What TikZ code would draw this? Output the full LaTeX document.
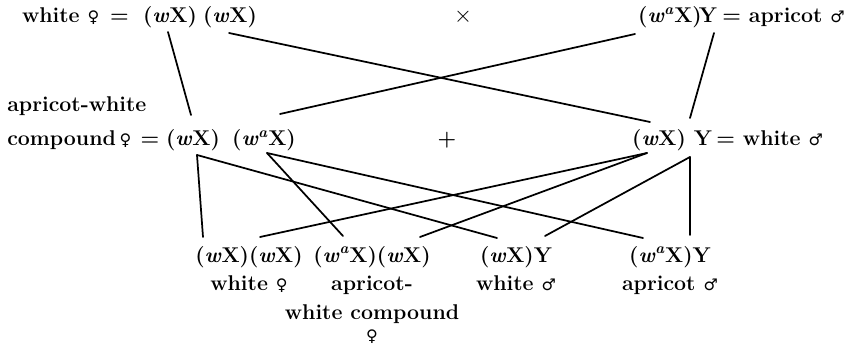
\documentclass[tikz,border=0pt]{standalone}
\usepackage{fontspec}
\usepackage{tikz}
\usetikzlibrary{positioning,calc}
\newfontfamily\sexfont{DejaVu Sans}
\newcommand{\fem}{{\sexfont\mdseries\fontsize{12}{14}\selectfont ♀}}
\newcommand{\mal}{{\sexfont\mdseries\fontsize{12}{14}\selectfont ♂}}
\newcommand{\wX}{(\textit{w}X)}
\newcommand{\waX}{(\textit{w}\textsuperscript{\textit{a}}X)}
\tikzset{
  txt/.style={inner sep=0pt,anchor=base,font=\fontsize{16}{21.5}\selectfont\bfseries},
  gamete/.style={txt},
  zygote/.style={txt,anchor=north,align=center},
  cross/.style={line width=1.3pt,line cap=round}
}

\begin{document}
\begin{tikzpicture}[x=0.75pt,y=-0.75pt]
  \useasboundingbox (0,0) rectangle (853,348);

  \node[txt,anchor=base east] (tlab) at (129,23) {white \fem\hspace{8pt}=};
  \node[gamete] (twX1) at (170,23) {\wX};
  \node[gamete] (twX2) at (230,23) {\wX};
  \node[txt] (times) at (463,23) {$\times$};
  \node[gamete] (twaX) at (670,23) {\waX};
  \node[gamete] (tY) at (708,23) {Y};
  \node[txt,anchor=base west] (trlab) at (722,23) {= apricot \mal};

  \node[txt,anchor=base west] (mlab1) at (7,112) {apricot-white};
  \node[txt,anchor=base west] (mlab2) at (7,146) {compound\,\fem};
  \node[txt] (meq) at (150,146) {=};
  \node[gamete] (mwX) at (193,146) {\wX};
  \node[gamete] (mwaX) at (264,146) {\waX};
  \node[txt] (plus) at (447,146) {+};
  \node[gamete] (mmwX) at (659,146) {\wX};
  \node[gamete] (mY) at (703,146) {Y};
  \node[txt,anchor=base west] (mrlab) at (716,146) {= white \mal};

  \node[zygote] (zw) at (249,246) {\wX\wX\\white \fem};
  \node[zygote] (zwa) at (372,246) {\waX\wX\\apricot-\\white compound\\[-5pt]\fem};
  \node[zygote] (zwy) at (516,246) {\wX Y\\white \mal};
  \node[zygote] (zway) at (670,246) {\waX Y\\apricot \mal};

  \draw[cross] ($(twX1.base)+(-2,9)$) -- ($(mwX.base)+(-2,-31)$);
  \draw[cross] ($(twX2.base)+(-1,10)$) -- ($(mmwX.base)+(-9,-24)$);
  \draw[cross] ($(twaX.base)+(-35,11)$) -- ($(mwaX.base)+(16,-32)$);
  \draw[cross] ($(tY.base)+(6,10)$) -- ($(mY.base)+(-13,-28)$);

  \draw[cross] ($(mwX.base)+(4,9)$) -- ($(zw.north)+(-46,-9)$);
  \draw[cross] ($(mwX.base)+(4,9)$) -- ($(zwy.north)+(-19,-8)$);
  \draw[cross] ($(mwaX.base)+(3,7)$) -- ($(zwa.north)+(-29,-10)$);
  \draw[cross] ($(mwaX.base)+(3,7)$) -- ($(zway.north)+(-27,-8)$);
  \draw[cross] ($(mmwX.base)+(-12,7)$) -- ($(zw.north)+(11,-9)$);
  \draw[cross] ($(mmwX.base)+(-12,7)$) -- ($(zwa.north)+(48,-9)$);
  \draw[cross] ($(mY.base)+(-13,11)$) -- ($(zwy.north)+(29,-10)$);
  \draw[cross] ($(mY.base)+(-13,11)$) -- ($(zway.north)+(20,-11)$);
\end{tikzpicture}
\end{document}
